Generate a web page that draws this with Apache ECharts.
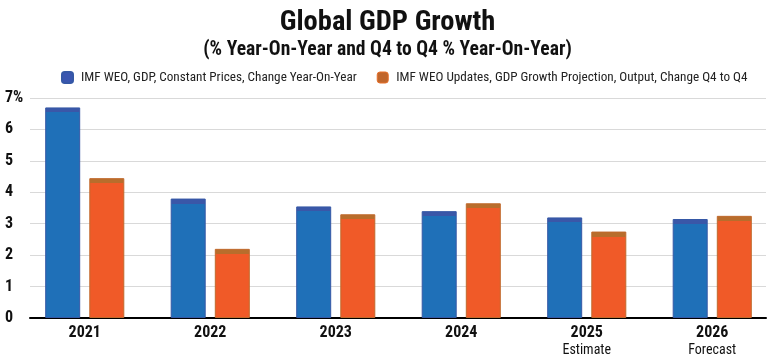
<!DOCTYPE html>
<html>
<head>
<meta charset="utf-8">
<script src="https://cdn.jsdelivr.net/npm/echarts@6/dist/echarts.min.js"></script>
<style>html,body{margin:0;padding:0;background:#fff}#c{width:775px;height:360px}</style>
</head>
<body>
<div id="c"></div>
<script>
const categories = ['2021', '2022', '2023', '2024', '2025', '2026'];
const categoryNotes = ['', '', '', '', 'Estimate', 'Forecast'];
const weoYoY = [6.7, 3.8, 3.55, 3.4, 3.2, 3.15];
const weoQ4 = [4.45, 2.2, 3.3, 3.65, 2.75, 3.25];
const yTicks = ['0', '1', '2', '3', '4', '5', '6', '7%'];
const seriesNames = ['IMF WEO, GDP, Constant Prices, Change Year-On-Year', 'IMF WEO Updates, GDP Growth Projection, Output, Change Q4 to Q4'];

const FONT = '"Liberation Sans Narrow", "Roboto Condensed", "Roboto", sans-serif';
const TOP = 98, BOTTOM = 42, H = 360 - TOP - BOTTOM, YMAX = 7;

function capItem(v, main, cap) {
  const px = v / YMAX * H;
  const f = Math.min(0.5, 5 / px);
  return {
    value: v,
    itemStyle: {
      color: {type: 'linear', x: 0, y: 0, x2: 0, y2: 1, colorStops: [
        {offset: 0, color: cap}, {offset: f, color: cap},
        {offset: f, color: main}, {offset: 1, color: main}
      ]}
    }
  };
}

const chart = echarts.init(document.getElementById('c'), null, {renderer: 'canvas'});
chart.setOption({
  animation: false,
  backgroundColor: '#ffffff',
  title: [
    {text: 'Global GDP Growth', left: 'center', top: 3,
     textStyle: {fontFamily: FONT, fontSize: 28.5, fontWeight: 'bold', color: '#111'}},
    {text: '(% Year-On-Year and Q4 to Q4 % Year-On-Year)', left: 'center', top: 35,
     textStyle: {fontFamily: FONT, fontSize: 19.6, fontWeight: 'bold', color: '#111'}}
  ],
  legend: {
    top: 66, left: 56, width: 715, itemWidth: 11, itemHeight: 11, itemGap: 20,
    textStyle: {fontFamily: FONT, fontSize: 13.2, color: '#222', padding: [0, 0, 0, 3]},
    data: [
      {name: seriesNames[0], itemStyle: {color: '#3a56b0'}},
      {name: seriesNames[1], itemStyle: {color: '#c0662c', borderColor: '#e8702a', borderWidth: 1}}
    ]
  },
  grid: [
    {left: 30, right: 9, top: TOP, bottom: BOTTOM},
    {left: 22, width: 760, top: TOP, bottom: BOTTOM}
  ],
  xAxis: [
    {type: 'category', gridIndex: 0, data: categories,
     axisLine: {lineStyle: {color: '#000', width: 2}}, axisTick: {show: false}, axisLabel: {show: false}},
    {type: 'category', gridIndex: 1, data: categories,
     axisLine: {show: false}, axisTick: {show: false},
     axisLabel: {
       margin: 6,
       formatter: function (val, i) {
         const note = categoryNotes[i];
         return note ? '{y|' + val + '}\n{n|' + note + '}' : '{y|' + val + '}';
       },
       rich: {
         y: {fontFamily: FONT, fontSize: 16, fontWeight: 'bold', color: '#111', lineHeight: 18},
         n: {fontFamily: FONT, fontSize: 14, color: '#111', lineHeight: 16}
       }
     }}
  ],
  yAxis: [
    {type: 'value', gridIndex: 0, min: 0, max: 7, interval: 1,
     axisLine: {show: false}, axisTick: {show: false},
     splitLine: {lineStyle: {color: '#d9d9d9', width: 1}},
     axisLabel: {align: 'left', margin: 25, fontFamily: FONT, fontSize: 16, fontWeight: 'bold', color: '#111',
       formatter: function (v) { return yTicks[Math.round(v)]; }}},
    {type: 'value', gridIndex: 1, min: 0, max: 7, interval: 1, show: false, splitLine: {show: false}}
  ],
  series: [
    {name: seriesNames[0], type: 'bar', xAxisIndex: 1, yAxisIndex: 1, barWidth: 35, barGap: '26%',
     itemStyle: {color: '#1f70b8', borderColor: '#3558a6', borderWidth: 1},
     data: weoYoY.map(v => capItem(v, '#1f70b8', '#3a57a8'))},
    {name: seriesNames[1], type: 'bar', xAxisIndex: 1, yAxisIndex: 1, barWidth: 35,
     itemStyle: {color: '#f05a28', borderColor: '#c0692c', borderWidth: 1},
     data: weoQ4.map(v => capItem(v, '#f05a28', '#b86d2c'))}
  ]
});
</script>
</body>
</html>
